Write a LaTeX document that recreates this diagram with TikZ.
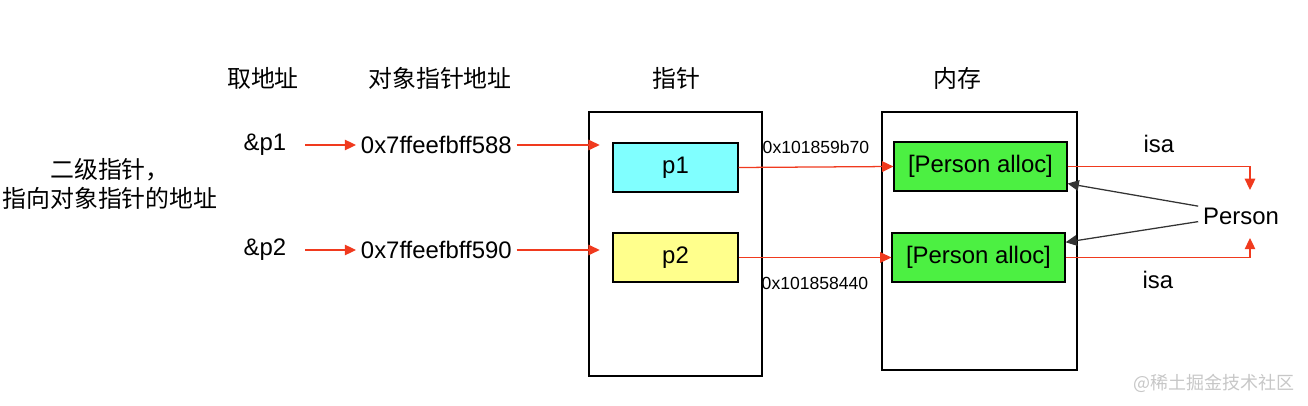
\documentclass[tikz,border=0pt]{standalone}
\usepackage{fontspec}
\setmainfont{Liberation Sans}
\newfontfamily\cjk{Noto Sans CJK SC}
\usetikzlibrary{positioning, arrows.meta, calc}

\definecolor{arrred}{RGB}{240,58,30}
\definecolor{ptrcyan}{RGB}{128,255,255}
\definecolor{ptryellow}{RGB}{255,255,140}
\definecolor{memgreen}{RGB}{76,240,66}

\begin{document}
\begin{tikzpicture}[
  x=0.025cm, y=-0.025cm,
  >={Triangle[length=8pt, width=7.5pt]},
  every node/.style={font=\fontsize{17pt}{21pt}\selectfont},
  head/.style={font=\fontsize{17pt}{21pt}\selectfont\cjk},
  frame/.style={draw, line width=0.8pt, inner sep=0pt},
  cell/.style={draw, line width=0.8pt, inner sep=0pt, minimum height=1.225cm},
  addrlbl/.style={font=\fontsize{12.5pt}{15pt}\selectfont, text=black},
  arr/.style={->, arrred, line width=0.9pt},
  blk/.style={->, black!80, line width=0.9pt},
]
\useasboundingbox (0,0) rectangle (1308,406);

% --- column headings ---
\node[head] (hdref)  at (263, 78) {取地址};
\node[head] (hdaddr) at (440, 78) {对象指针地址};
\node[head] (hdptr)  at (676, 78) {指针};
\node[head] (hdmem)  at (957, 78) {内存};

% --- left description ---
\node[head, align=center] (desc) at (110, 184) {二级指针，\\指向对象指针的地址};

% --- address of pointer ---
\node (ref1) at (265, 145) {\&p1};
\node (ref2) at (265, 250) {\&p2};
\node[anchor=west] (addr1) at (356, 145) {0x7ffeefbff588};
\node[anchor=west] (addr2) at (356, 250) {0x7ffeefbff590};

% --- pointer column ---
\node[frame, minimum width=4.325cm, minimum height=6.6cm] (ptrbox) at (675.5, 244) {};
\node[cell, fill=ptrcyan, minimum width=3.125cm] (p1) at (675.5, 167.5) {p1};
\node[cell, fill=ptryellow, minimum width=3.125cm] (p2) at (675.5, 257.5) {p2};

% --- memory column ---
\node[frame, minimum width=4.875cm, minimum height=6.45cm] (membox) at (979.5, 241) {};
\node[cell, fill=memgreen, minimum width=4.325cm] (pa1) at (980.5, 166.5) {[Person alloc]};
\node[cell, fill=memgreen, minimum width=4.325cm] (pa2) at (978.5, 257.5) {[Person alloc]};

% --- class ---
\node (person) at (1241, 216) {Person};
\coordinate (isatip1) at (1250, 190);
\coordinate (isatip2) at (1250, 238);

% --- connectors ---
\draw[arr, shorten <=10pt] (ref1.east) -- (addr1.west);
\draw[arr, shorten <=10pt] (ref2.east) -- (addr2.west);
\draw[arr] (addr1.east) -- ([xshift=8pt]addr1.east -| ptrbox.west);
\draw[arr] (addr2.east) -- ([xshift=8pt]addr2.east -| ptrbox.west);

\draw[arr] (p1.east) -- node[addrlbl, above=6pt] (val1) {0x101859b70} (pa1.west);
\draw[arr] (p2.east) -- node[addrlbl, below=10pt] (val2) {0x101858440} (pa2.west);

\draw[arr] (pa1.east) -| node[pos=0.25, above=6pt, text=black] (isa1) {isa} (isatip1);
\draw[arr] (pa2.east) -| node[pos=0.25, below=6pt, text=black] (isa2) {isa} (isatip2);

\draw[blk] ([yshift=7pt]person.west) -- ([yshift=5.7pt]pa1.south east);
\draw[blk] ([yshift=-4pt]person.west) -- ([yshift=-7pt]pa2.north east);

% watermark
\node[font=\fontsize{12.8pt}{15pt}\selectfont\cjk, text=black!22] (mark) at (1214, 383) {@稀土掘金技术社区};

\end{tikzpicture}
\end{document}
